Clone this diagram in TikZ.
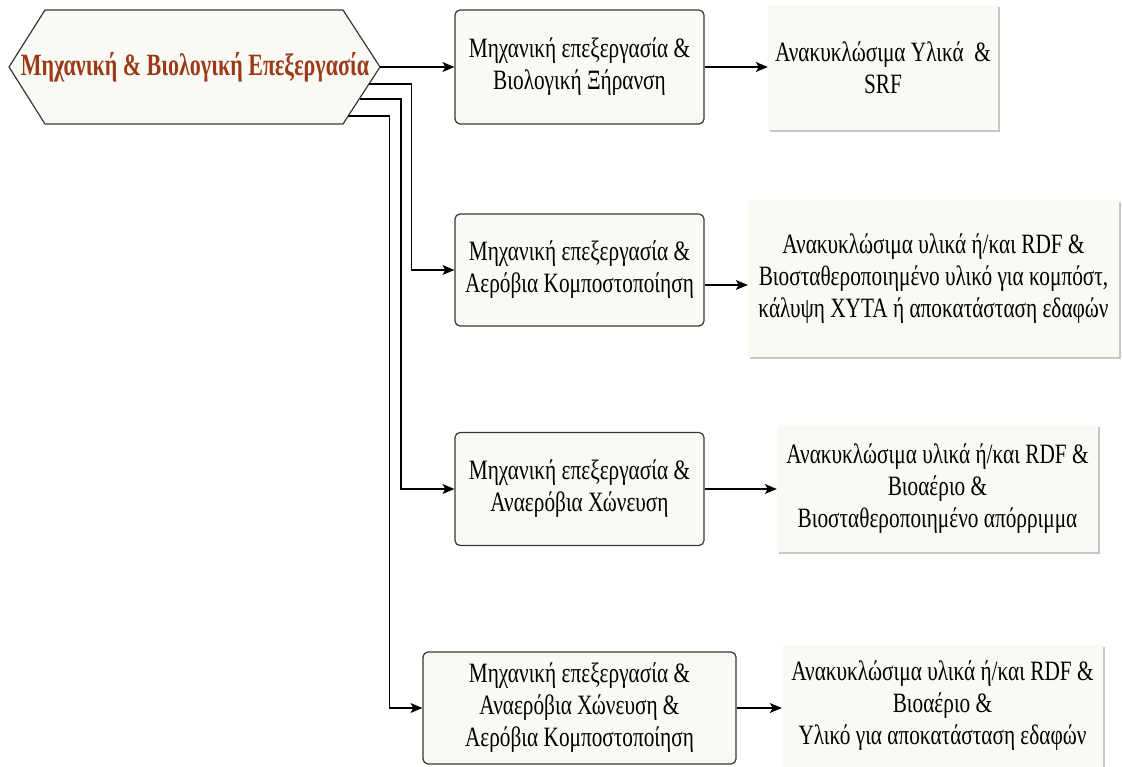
\documentclass[tikz,border=0pt]{standalone}
\usepackage{fontspec}
\setmainfont{Liberation Serif}[FakeStretch=0.76]
\newfontfamily\headfont{Liberation Serif}[FakeStretch=0.71]
\usetikzlibrary{arrows.meta,shadows}
\definecolor{ivory}{RGB}{250,250,244}
\definecolor{titlered}{RGB}{155,58,24}
\definecolor{edgegray}{RGB}{55,55,55}
\begin{document}
\begin{tikzpicture}[x=1pt,y=-1pt,
  stagebox/.style={draw=edgegray, line width=1.2pt, fill=ivory, rounded corners=5pt,
    align=center, inner sep=0pt, font=\fontsize{28}{32}\selectfont},
  outbox/.style={fill=ivory, drop shadow={shadow xshift=2pt, shadow yshift=-2pt, fill=black!22, opacity=1},
    align=center, inner sep=0pt, font=\fontsize{28}{32}\selectfont},
  flow/.style={line width=1.2pt, -{Stealth[length=12pt,width=10pt,inset=3pt]}},
]
\useasboundingbox (0,0) rectangle (1122,767);

% hexagonal header
\coordinate (hexW)  at (9,67);
\coordinate (hexNW) at (45,10);
\coordinate (hexNE) at (343,10);
\coordinate (hexE)  at (380,67);
\coordinate (hexSE) at (343,124);
\coordinate (hexSW) at (45,124);
\draw[draw=edgegray, line width=1.2pt, fill=ivory]
  (hexW) -- (hexNW) -- (hexNE) -- (hexE) -- (hexSE) -- (hexSW) -- cycle;
\node[font=\headfont\bfseries\fontsize{31}{36}\selectfont, text=titlered] (title) at (195,67)
  {Μηχανική \& Βιολογική Επεξεργασία};

% branch start points on the lower right edge
\coordinate (hexA) at (369.4,84);
\coordinate (hexB) at (359.5,99);
\coordinate (hexC) at (348.3,116);

% process stages
\node[stagebox, minimum width=249pt, minimum height=114pt] (b1) at (579.5,67)
  {Μηχανική επεξεργασία \&\\Βιολογική Ξήρανση};
\node[stagebox, minimum width=249pt, minimum height=112pt] (b2) at (579.5,270)
  {Μηχανική επεξεργασία \&\\Αερόβια Κομποστοποίηση};
\node[stagebox, minimum width=249pt, minimum height=113pt] (b3) at (579.5,489)
  {Μηχανική επεξεργασία \&\\Αναερόβια Χώνευση};
\node[stagebox, minimum width=313pt, minimum height=112pt] (b4) at (579.5,708)
  {Μηχανική επεξεργασία \&\\Αναερόβια Χώνευση \&\\Αερόβια Κομποστοποίηση};

% products
\node[outbox, minimum width=230pt, minimum height=125pt] (o1) at (883,67.5)
  {Ανακυκλώσιμα Υλικά~ \&\\SRF};
\node[outbox, minimum width=371pt, minimum height=157pt] (o2) at (933.5,278.5)
  {Ανακυκλώσιμα υλικά ή/και RDF \&\\Βιοσταθεροποιημένο υλικό για κομπόστ,\\κάλυψη ΧΥΤΑ ή αποκατάσταση εδαφών};
\node[outbox, minimum width=321pt, minimum height=127pt] (o3) at (937.5,488.5)
  {Ανακυκλώσιμα υλικά ή/και RDF \&\\Βιοαέριο \&\\Βιοσταθεροποιημένο απόρριμμα};
\node[outbox, minimum width=321pt, minimum height=122pt] (o4) at (942.5,706)
  {Ανακυκλώσιμα υλικά ή/και RDF \&\\Βιοαέριο \&\\Υλικό για αποκατάσταση εδαφών};

% header to stages
\draw[flow] (hexE) -- (b1.west);
\draw[flow] (hexA) -| ([xshift=-43pt]b2.west) -- (b2.west);
\draw[flow] (hexB) -| ([xshift=-53.5pt]b3.west) -- (b3.west);
\draw[flow] (hexC) -| ([xshift=-33pt]b4.west) -- (b4.west);

% stages to products
\draw[flow] (b1.east) -- (b1.east -| o1.west);
\draw[flow] ([yshift=-15pt]b2.east) -- ([yshift=-15pt]b2.east -| o2.west);
\draw[flow] (b3.east) -- (b3.east -| o3.west);
\draw[flow] (b4.east) -- (b4.east -| o4.west);
\end{tikzpicture}
\end{document}
